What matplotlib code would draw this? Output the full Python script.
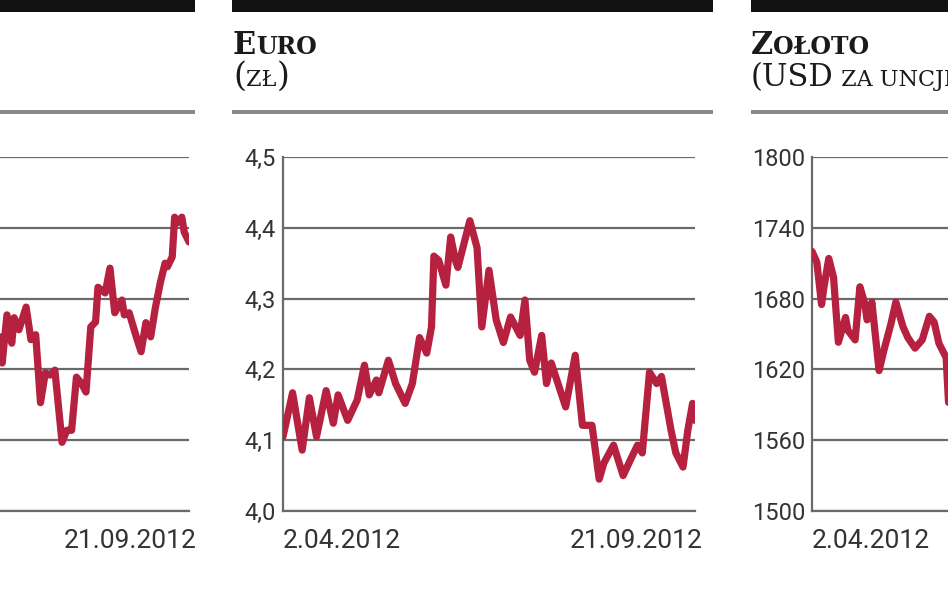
import matplotlib
matplotlib.use('Agg')
import matplotlib.pyplot as plt
from matplotlib.patches import Rectangle
from matplotlib.transforms import ScaledTranslation

# data (day = days since 2.04.2012)
# left panel (only the last part of it is inside the picture)
wig_day = [93, 94, 96, 98, 99, 101, 104, 106, 108, 110, 112, 114, 116, 119, 121, 123,
           125, 127, 129, 131, 133, 134, 137, 139, 141, 144, 145, 147, 150, 152, 154,
           156, 158, 160, 162, 163, 165, 166, 167, 169, 170, 172]
wig_val = [2246, 2209, 2277, 2237, 2273, 2256, 2288, 2242, 2249, 2153, 2195, 2192, 2199,
           2097, 2114, 2114, 2189, 2181, 2168, 2260, 2267, 2316, 2308, 2343, 2280, 2298,
           2277, 2280, 2246, 2225, 2266, 2246, 2288, 2322, 2350, 2345, 2359, 2415, 2407,
           2415, 2394, 2380]

eur_day = [0, 4, 8, 11, 14, 18, 21, 23, 27, 31, 34, 36, 39, 40, 44, 47, 51, 54, 57, 60,
           62, 63, 65, 68, 70, 72, 73, 78, 81, 83, 86, 89, 92, 95, 99, 101, 103, 105,
           108, 110, 112, 118, 122, 125, 129, 132, 134, 138, 142, 145, 148, 150, 153,
           156, 158, 162, 164, 167, 169, 171, 172]
eur_val = [4.105, 4.167, 4.086, 4.160, 4.105, 4.170, 4.124, 4.164, 4.128, 4.157, 4.206,
           4.164, 4.185, 4.167, 4.213, 4.180, 4.152, 4.180, 4.245, 4.223, 4.260, 4.360,
           4.354, 4.319, 4.387, 4.354, 4.344, 4.410, 4.372, 4.260, 4.340, 4.270, 4.238,
           4.274, 4.248, 4.298, 4.213, 4.196, 4.248, 4.180, 4.209, 4.147, 4.220, 4.121,
           4.121, 4.045, 4.068, 4.093, 4.050, 4.072, 4.093, 4.082, 4.196, 4.180, 4.190,
           4.114, 4.082, 4.062, 4.114, 4.152, 4.128]

# right panel (only the first part of it is inside the picture)
gold_day = [0, 2, 4, 5, 7, 9, 11, 14, 15, 18, 20, 22, 23, 25, 28, 30, 33, 35, 38, 40,
            43, 46, 49, 51, 53, 56, 57]
gold_val = [1720, 1711, 1675, 1690, 1714, 1698, 1643, 1664, 1653, 1645, 1690, 1676, 1662,
            1677, 1619, 1636, 1659, 1677, 1656, 1647, 1638, 1645, 1665, 1660, 1642, 1630,
            1592]

wig_ticks = [2000, 2100, 2200, 2300, 2400, 2500]
eur_ticks = [4.0, 4.1, 4.2, 4.3, 4.4, 4.5]
gold_ticks = [1500, 1560, 1620, 1680, 1740, 1800]
date_labels = ['2.04.2012', '21.09.2012']
last_day = 172

RED = '#B5213F'
GRID = '#6a6a6a'
TXT = '#333333'
SANS = 'Roboto'
SERIF = 'DejaVu Serif'

W, H = 948, 593
fig = plt.figure(figsize=(W / 100, H / 100), dpi=100)
renderer = fig.canvas.get_renderer()


def fx(px):
    return px / W


def fy(py):
    return 1 - py / H


def chain_text(x, y, parts):
    # small caps look: pieces of text set one after another
    for s, size, weight in parts:
        t = fig.text(fx(x), fy(y), s, fontsize=size, fontweight=weight,
                     family=SERIF, color='#1a1a1a', ha='left', va='baseline')
        x = t.get_window_extent(renderer).x1


def panel(left, days, vals, ticks, labels, bar, show_y=True, dates=(0, 1)):
    ax = fig.add_axes([fx(left), fy(511), fx(412), 354 / H])
    ax.plot(days, vals, color=RED, lw=5.2, solid_joinstyle='round',
            solid_capstyle='round', zorder=3)
    ax.set_xlim(0, last_day)
    ax.set_ylim(ticks[0], ticks[-1])
    ax.set_yticks(ticks, labels)
    pos = [0, last_day]
    ax.set_xticks([pos[i] for i in dates], [date_labels[i] for i in dates])
    ax.grid(axis='y', color=GRID, lw=1.6, zorder=1)
    for s in ['top', 'right']:
        ax.spines[s].set_visible(False)
    for s in ['left', 'bottom']:
        ax.spines[s].set_color(GRID)
        ax.spines[s].set_linewidth(1.6)
    ax.tick_params(axis='y', length=0, pad=5, labelsize=17, labelcolor=TXT,
                   labelleft=show_y)
    ax.tick_params(axis='x', length=0, pad=13, labelsize=19, labelcolor=TXT)
    for lab in ax.get_yticklabels() + ax.get_xticklabels():
        lab.set_family(SANS)
    for i, lab in zip(dates, ax.get_xticklabels()):
        if i == 0:
            lab.set_ha('left')
        else:
            lab.set_ha('right')
            lab.set_transform(lab.get_transform() + ScaledTranslation(0.08, 0, fig.dpi_scale_trans))
    ax.set_facecolor('none')
    # black header bar and grey rule under the title
    fig.add_artist(Rectangle((fx(bar[0]), fy(12)), fx(bar[1] - bar[0]), 12 / H,
                             transform=fig.transFigure, color='#111111', lw=0))
    fig.add_artist(Rectangle((fx(bar[0]), fy(113.5)), fx(bar[1] - bar[0]), 3 / H,
                             transform=fig.transFigure, color='#8a8a8a', lw=0))
    return ax


panel(-223, wig_day, wig_val, wig_ticks, [str(t) for t in wig_ticks], (-286, 195),
      show_y=False, dates=(1,))
panel(283, eur_day, eur_val, eur_ticks,
      [f'{t:.1f}'.replace('.', ',') for t in eur_ticks], (232, 713))
panel(812, gold_day, gold_val, gold_ticks, [str(t) for t in gold_ticks], (751, 1300),
      dates=(0,))

chain_text(233, 54, [('E', 22, 'bold'), ('URO', 17, 'bold')])
chain_text(233, 86, [('(', 24, 'normal'), ('ZŁ', 16, 'normal'), (')', 24, 'normal')])
chain_text(751, 54, [('Z', 22, 'bold'), ('OŁOTO', 17, 'bold')])
chain_text(751, 86, [('(USD', 22, 'normal'), (' ZA UNCJĘ', 16, 'normal'), (')', 24, 'normal')])

fig.savefig('out.png', dpi=100)
